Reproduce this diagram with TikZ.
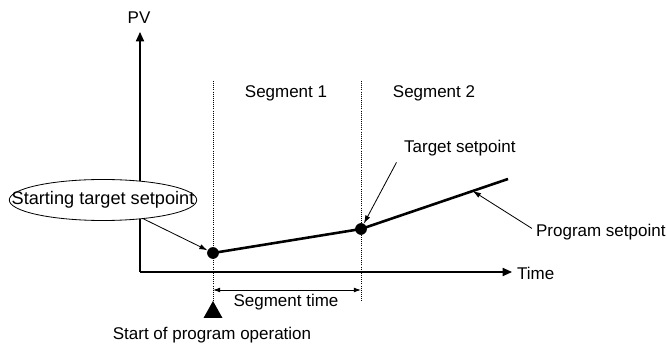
\documentclass[tikz,border=0pt]{standalone}
\usepackage{fontspec}
\setmainfont{Liberation Sans}
\usetikzlibrary{arrows.meta, shapes.geometric, positioning, calc}

\begin{document}
\begin{tikzpicture}[
    x=0.03cm, y=-0.03cm,
    every node/.style={font=\fontsize{14.5}{17}\selectfont},
    axis/.style={-{Triangle[length=8pt, width=7pt]}, line width=1.1pt},
    guide/.style={densely dotted, line width=0.8pt},
    program/.style={line width=2.2pt},
    pointer/.style={-{Latex[length=7pt, width=4.5pt]}, line width=0.7pt},
    span/.style={{Latex[length=6pt, width=4pt]}-{Latex[length=6pt, width=4pt]}, line width=0.7pt},
    setpt/.style={circle, fill=black, inner sep=0pt, minimum size=10pt},
    bubble/.style={ellipse, draw, line width=0.7pt, inner sep=0pt, minimum width=160pt, minimum height=35pt}
]
\useasboundingbox (0,0) rectangle (667,347);
% axes
\coordinate (origin) at (140,272);
\coordinate (pvtip) at (140,32);
\coordinate (timetip) at (512,272);
\node (pv) at (139,18) {PV};
\node[anchor=west] (time) at (513,273) {Time};
\draw[axis] (origin) -- (pvtip);
\draw[axis] (origin) -- (timetip);
% segment boundaries
\coordinate (seg1top) at (213,81);
\coordinate (seg2top) at (361,81);
\coordinate (seg1bot) at (213,301);
\coordinate (seg2bot) at (361,301);
\draw[guide] (seg1top) -- (seg1bot);
\draw[guide] (seg2top) -- (seg2bot);
\node (seg1) at (286,93) {Segment 1};
\node (seg2) at (434,93) {Segment 2};
% program setpoint line
\node[setpt] (start) at (213,253) {};
\node[setpt] (target) at (361,229) {};
\coordinate (progend) at (508,179);
\draw[program] (start.center) -- (target.center) -- (progend);
% labels
\node[bubble, fill=white] (bubble) at (103,200) {};
\node[font=\fontsize{15.5}{18}\selectfont] (starttxt) at (bubble.center) {Starting target setpoint};
\draw[pointer] (bubble.-25) -- (start);
\node[anchor=west] (targettxt) at (400,148) {Target setpoint};
\draw[pointer] ([xshift=-3pt, yshift=-2pt]targettxt.south west) -- (target);
\node[anchor=west] (progtxt) at (532,232) {Program setpoint};
\draw[pointer] ([yshift=3pt]progtxt.west) -- ($(target)!0.76!(progend)$);
% segment time
\coordinate (spanl) at (213,290);
\coordinate (spanr) at (361,290);
\draw[span] (spanl) -- (spanr);
\node (segtime) at (286,302) {Segment time};
% start of operation
\fill (seg1bot) -- (203.5,318) -- (222.5,318) -- cycle;
\node (opstart) at (212,335) {Start of program operation};
\end{tikzpicture}
\end{document}
